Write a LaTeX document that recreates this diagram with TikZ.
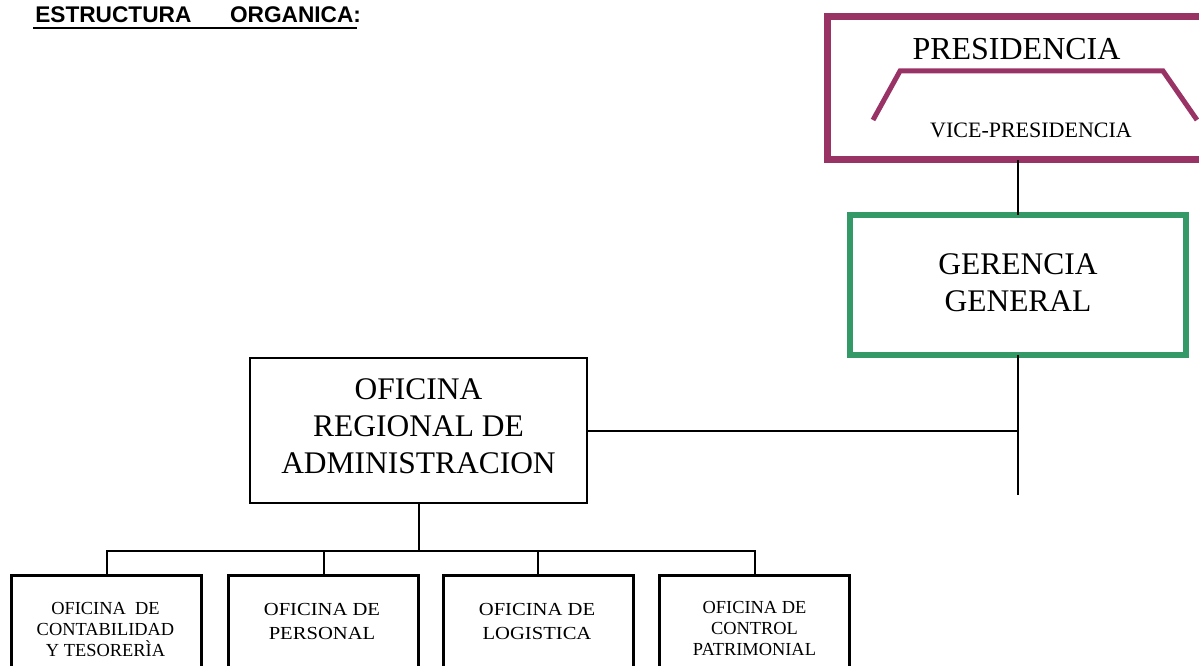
\documentclass[tikz,border=0pt]{standalone}
\usepackage{fontspec}
\setmainfont{Liberation Serif}
\setsansfont{Liberation Sans}
\newfontfamily\wideserif[FakeStretch=1.12]{Liberation Serif}
\definecolor{presc}{HTML}{993366}
\definecolor{gerc}{HTML}{339966}
\begin{document}
\begin{tikzpicture}[x=0.75pt,y=-0.75pt,
  conn/.style={draw=black,line width=1.5pt},
  presbox/.style={draw=presc,line width=5.25pt,minimum width=286.5pt,minimum height=107.6pt,inner sep=0pt,outer sep=0pt},
  gerbox/.style={draw=gerc,line width=4.5pt,minimum width=252pt,minimum height=105pt,inner sep=0pt,outer sep=0pt},
  orabox/.style={draw=black,line width=1.6pt,minimum width=252.75pt,minimum height=108.75pt,inner sep=0pt,outer sep=0pt},
  subbox/.style={draw=black,line width=2.25pt,minimum width=142.5pt,minimum height=86.25pt,inner sep=0pt,outer sep=0pt},
  bigtxt/.style={inner sep=0pt,anchor=north,align=center,font=\fontsize{23.6pt}{28pt}\selectfont},
  smalltxt/.style={inner sep=0pt,anchor=north,align=center,font=\fontsize{13.8pt}{15.75pt}\selectfont},
  widetxt/.style={inner sep=0pt,anchor=north,align=center,font=\wideserif\fontsize{13.8pt}{18pt}\selectfont}]
\useasboundingbox (0,0) rectangle (1199,666);
\clip (0,0) rectangle (1199,666);

% title
\node[inner sep=0pt,anchor=base west,font=\sffamily\bfseries\fontsize{17pt}{20pt}\selectfont] (title) at (35,22.7) {ESTRUCTURA\hspace{29pt}ORGANICA:};
\draw[line width=1.5pt] (33,28.3) -- (357,28.3);

% presidencia
\node[presbox] (pres) at (1018,88.25) {};
\node[inner sep=0pt,anchor=base,font=\fontsize{24pt}{28pt}\selectfont] (prestxt) at (1016.5,60) {PRESIDENCIA};
\draw[presc,line width=3.75pt] (873,120) -- (900,71) -- (1163,71) -- (1197,120);
\node[inner sep=0pt,anchor=base,font=\fontsize{16.5pt}{20pt}\selectfont] (vicetxt) at (1031,138) {VICE-PRESIDENCIA};

% gerencia
\node[gerbox] (ger) at (1018,285) {};
\node[bigtxt] (gertxt) at (1018,253) {GERENCIA\\GENERAL};

% oficina regional
\node[orabox] (ora) at (418.5,430.5) {};
\node[bigtxt] (oratxt) at (418.5,378) {OFICINA\\REGIONAL DE\\ADMINISTRACION};

% sub offices
\node[subbox] (b1) at (106.5,632.5) {};
\node[subbox] (b2) at (323.5,632.5) {};
\node[subbox] (b3) at (538,632.5) {};
\node[subbox] (b4) at (754.5,632.5) {};
\node[smalltxt] (b1txt) at (105.5,602) {OFICINA~~DE\\CONTABILIDAD\\Y TESORERÌA};
\node[widetxt] (b2txt) at (322,603) {OFICINA DE\\PERSONAL};
\node[widetxt] (b3txt) at (537,603) {OFICINA DE\\LOGISTICA};
\node[smalltxt] (b4txt) at (754.5,601.5) {OFICINA DE\\CONTROL\\PATRIMONIAL};

% connectors
\coordinate (bar) at (418.5,551);
\coordinate (gend) at (1018,495);
\draw[conn] (pres.south) -- (ger.north);
\draw[conn] (ger.south) -- (gend);
\draw[conn] (ora.east) -- (ora.east -| gend);
\draw[conn] (ora.south) -- (bar);
\draw[conn] (b1.north) |- (b4.north |- bar) -- (b4.north);
\draw[conn] (b2.north) -- (b2.north |- bar);
\draw[conn] (b3.north) -- (b3.north |- bar);
\end{tikzpicture}
\end{document}
